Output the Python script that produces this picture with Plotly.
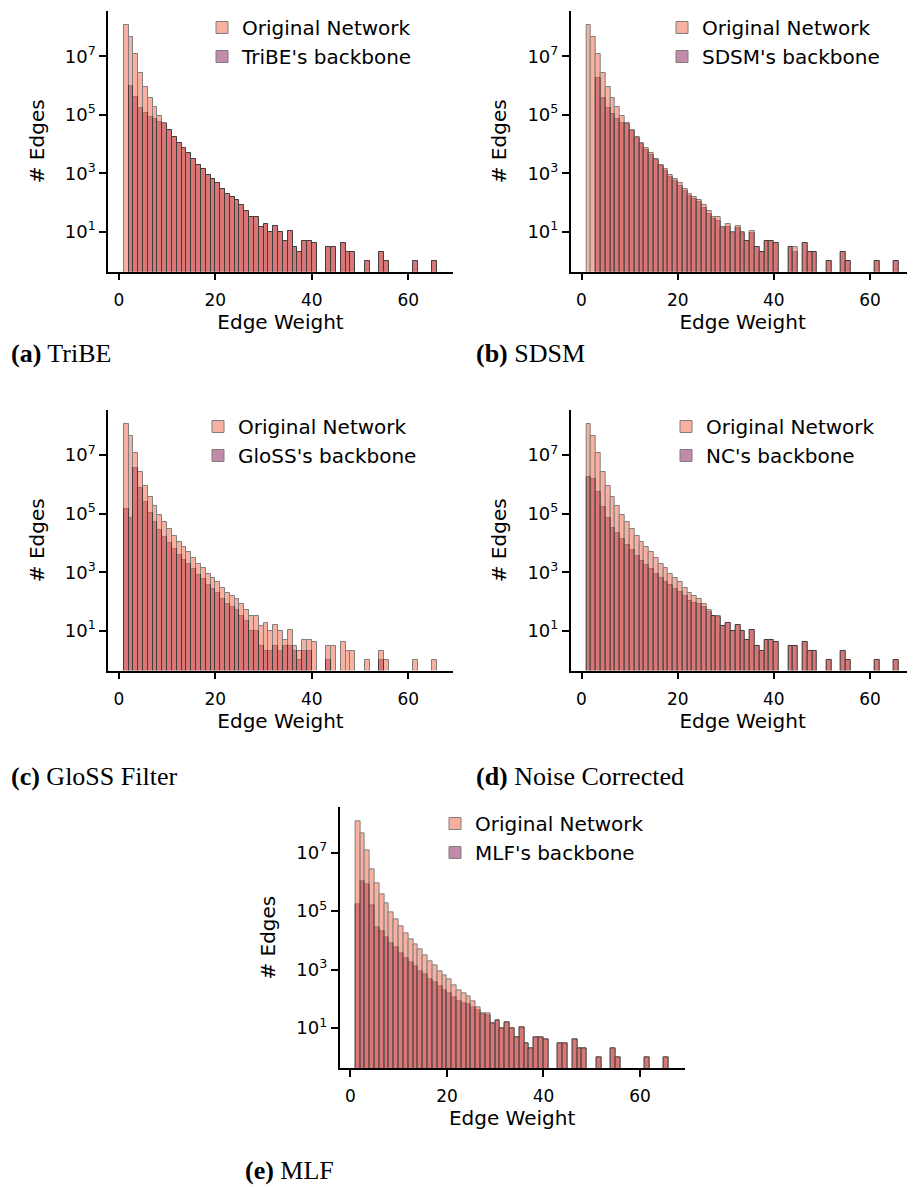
import plotly.graph_objects as go

# ---------------- data (bar heights = number of edges per weight bin) ----------------
bin_edges = list(range(1, 67))          # weight bins [1,2), [2,3), ... , [65,66]

original = [115000000, 44700000, 11500000, 2630000, 900000, 372000, 182000, 90000,
            53700, 30200, 17800, 11100, 7080, 4790, 3160, 1970, 1380, 871, 631, 447,
            282, 191, 155, 120, 83, 52, 32, 31, 15, 18, 10, 16, 10, 5, 11, 3, 2, 5, 5, 4,
            0, 0, 3, 3, 0, 4, 2, 2, 0, 0, 1, 0, 0, 2, 1, 0, 0, 0, 0, 0, 1, 0, 0, 0, 1]

tribe = [0, 955000, 417000, 166000, 112000, 85000, 69000, 57500,
         50000, 29500, 17600, 11000, 7050, 4780, 3150, 1965, 1375, 869, 630, 446,
         281, 191, 155, 120, 83, 52, 32, 31, 15, 18, 10, 16, 10, 5, 11, 3, 2, 5, 5, 4,
         0, 0, 3, 3, 0, 4, 2, 2, 0, 0, 1, 0, 0, 2, 1, 0, 0, 0, 0, 0, 1, 0, 0, 0, 1]

sdsm = [0, 0, 1820000, 380000, 174000, 102000, 69000, 52000,
        50000, 28000, 16500, 10000, 6300, 4300, 2800, 1750, 1200, 760, 540, 380,
        240, 165, 130, 100, 65, 40, 28, 24, 13, 15, 9, 13, 9, 5, 9, 3, 2, 5, 5, 4,
        0, 0, 3, 2, 0, 4, 2, 2, 0, 0, 1, 0, 0, 2, 1, 0, 0, 0, 0, 0, 1, 0, 0, 0, 1]

gloss = [145000, 69000, 3550000, 776000, 245000, 107000, 52000, 27000,
         16600, 9800, 6000, 4000, 2630, 1860, 1260, 830, 590, 380, 275, 190,
         120, 83, 66, 50, 33, 21, 10, 10, 3, 2, 2, 3, 2, 3, 3, 2, 1, 2, 2, 0,
         0, 0, 1, 0, 0, 0, 0, 0, 0, 0, 0, 0, 0, 1, 0, 0, 0, 0, 0, 0, 0, 0, 0, 0, 0]

nc = [1740000, 1580000, 562000, 174000, 69000, 33000, 22400, 13200,
      8300, 5600, 3700, 2500, 1780, 1260, 890, 630, 480, 355, 275, 219,
      148, 107, 89, 79, 63, 45, 31, 30, 15, 18, 10, 16, 10, 5, 11, 3, 2, 5, 5, 4,
      0, 0, 3, 3, 0, 4, 2, 2, 0, 0, 1, 0, 0, 2, 1, 0, 0, 0, 0, 0, 1, 0, 0, 0, 1]

mlf = [174000, 1070000, 832000, 151000, 27000, 20000, 12600, 8100,
       5600, 3700, 2500, 1740, 1260, 890, 676, 479, 355, 263, 200, 158,
       112, 79, 71, 63, 52, 40, 30, 28, 15, 18, 10, 16, 10, 5, 11, 3, 2, 5, 5, 4,
       0, 0, 3, 3, 0, 4, 2, 2, 0, 0, 1, 0, 0, 2, 1, 0, 0, 0, 0, 0, 1, 0, 0, 0, 1]

backbone_names = ["TriBE's backbone", "SDSM's backbone", "GloSS's backbone",
                  "NC's backbone", "MLF's backbone"]
captions = ["<b>(a)</b> TriBE", "<b>(b)</b> SDSM", "<b>(c)</b> GloSS Filter",
            "<b>(d)</b> Noise Corrected", "<b>(e)</b> MLF"]
x_ticks = [0, 20, 40, 60]
y_ticks = [10, 1000, 100000, 10000000]
y_ticktext = ["10<sup>1</sup>", "10<sup>3</sup>", "10<sup>5</sup>", "10<sup>7</sup>"]

# ---------------- layout geometry (page pixels; page has an 8px body margin) ----------------
OFF = 8
W, H = 915 - OFF, 1187 - OFF
panels = [  # (left, right, top, bottom) of plot area in page px
    (108, 453, 8, 269.3),
    (570.7, 914.5, 8, 269.3),
    (108, 453, 408, 669.3),
    (570.7, 914.5, 408, 669.3),
    (339.6, 684.6, 806.4, 1067.7),
]
legend_pos = [(202, 5), (662, 5), (198, 405), (666, 405), (435, 803)]
caption_pos = [(9, 351), (474, 351), (9, 775), (474, 775), (243, 1170)]

orig_color = "rgb(241,99,68)"
bb_color = "rgb(133,25,85)"

centers = [(bin_edges[i] + bin_edges[i + 1]) / 2 for i in range(len(bin_edges) - 1)]


def px_x(v):
    return (v - OFF) / W


def px_y(v):
    return 1 - (v - OFF) / H


def nz(vals):
    return [v if v > 0 else None for v in vals]


fig = go.Figure()
backbones = [tribe, sdsm, gloss, nc, mlf]
layout_axes = {}
for i, (bb, name) in enumerate(zip(backbones, backbone_names)):
    n = i + 1
    xa = "x" if n == 1 else f"x{n}"
    ya = "y" if n == 1 else f"y{n}"
    lg = "legend" if n == 1 else f"legend{n}"
    fig.add_trace(go.Bar(x=centers, y=nz(bb), width=1, name=name, xaxis=xa, yaxis=ya,
                         marker=dict(color=bb_color, line=dict(color="black", width=1)),
                         opacity=0.5, legend=lg, legendrank=2))
    fig.add_trace(go.Bar(x=centers, y=nz(original), width=1, name="Original Network",
                         xaxis=xa, yaxis=ya,
                         marker=dict(color=orig_color, line=dict(color="black", width=1)),
                         opacity=0.5, legend=lg, legendrank=1))
    l, r, t, b = panels[i]
    xkey = "xaxis" if n == 1 else f"xaxis{n}"
    ykey = "yaxis" if n == 1 else f"yaxis{n}"
    layout_axes[xkey] = dict(
        domain=[px_x(l), px_x(r)], anchor=ya, range=[-2.25, 69.25],
        tickvals=x_ticks, ticks="outside", ticklen=7, tickwidth=1.5, tickcolor="black",
        ticklabelstandoff=5,
        showline=True, linecolor="black", linewidth=1.5, showgrid=False, zeroline=False,
        tickfont=dict(size=17, color="black"),
        title=dict(text="Edge Weight", font=dict(size=20, color="black"), standoff=5),
    )
    layout_axes[ykey] = dict(
        domain=[px_y(b), px_y(t)], anchor=xa, type="log", range=[-0.364, 8.545],
        tickvals=y_ticks, ticktext=y_ticktext, ticks="outside", ticklen=7, tickwidth=1.5,
        tickcolor="black", showline=True, linecolor="black", linewidth=1.5,
        showgrid=False, zeroline=False, tickfont=dict(size=18, color="black"),
        title=dict(text="# Edges", font=dict(size=20, color="black"), standoff=15),
    )
    lx, ly = legend_pos[i]
    layout_axes[lg] = dict(
        x=px_x(lx), y=px_y(ly), xanchor="left", yanchor="top",
        font=dict(size=20, color="black"), bgcolor="rgba(0,0,0,0)", borderwidth=0,
        traceorder="normal",
    )

annotations = []
for (cx, cy), text in zip(caption_pos, captions):
    annotations.append(dict(
        text=text, x=px_x(cx), y=px_y(cy), xref="paper", yref="paper",
        xanchor="left", yanchor="middle", showarrow=False,
        font=dict(family="Liberation Serif, DejaVu Serif, serif", size=26, color="black"),
    ))

fig.update_layout(
    width=W, height=H, margin=dict(l=0, r=0, t=0, b=0),
    paper_bgcolor="white", plot_bgcolor="white", barmode="overlay", bargap=0,
    font=dict(family="DejaVu Sans, sans-serif", color="black"),
    annotations=annotations, showlegend=True,
    **layout_axes,
)

fig.write_html("out.html")
